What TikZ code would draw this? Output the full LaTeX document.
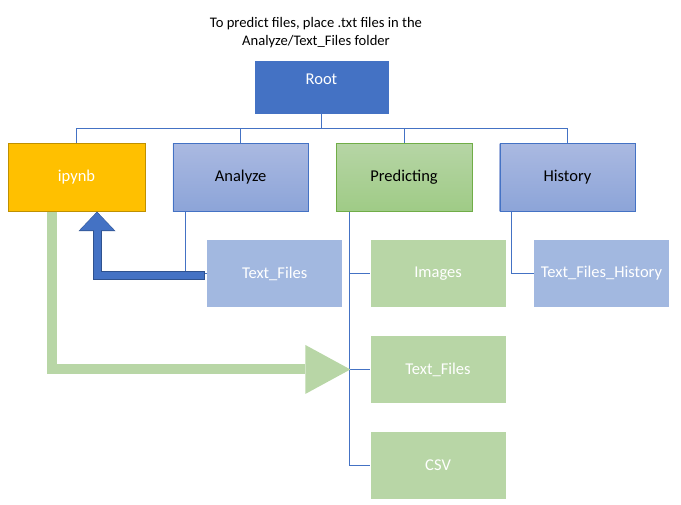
\documentclass[tikz,border=0pt]{standalone}
\usepackage{fontspec}
\setmainfont{Carlito}
\usetikzlibrary{positioning,arrows.meta}

\definecolor{rootblue}{HTML}{4472C4}
\definecolor{darkblue}{HTML}{2F528F}
\definecolor{gold}{HTML}{FFC000}
\definecolor{darkgold}{HTML}{BF9000}
\definecolor{bluetop}{HTML}{AAB9E1}
\definecolor{bluebot}{HTML}{8CA4D8}
\definecolor{greentop}{HTML}{B6D5A5}
\definecolor{greenbot}{HTML}{9FCB86}
\definecolor{greenedge}{HTML}{70AD47}
\definecolor{lightblue}{HTML}{A2B8E0}
\definecolor{lightgreen}{HTML}{B8D6A6}

\begin{document}
\begin{tikzpicture}[font=\fontsize{16.5bp}{20bp}\selectfont]

    % Styles
    \tikzstyle{rootbox} = [rectangle, minimum width=134bp, minimum height=53bp, inner sep=2bp, text centered, text depth=17bp, fill=rootblue, text=white]
    \tikzstyle{notebook} = [rectangle, minimum width=137bp, minimum height=68bp, inner sep=2bp, text centered, draw=darkgold, fill=gold, text=white]
    \tikzstyle{folder} = [rectangle, minimum width=135.5bp, minimum height=68bp, inner sep=2bp, text centered, draw=rootblue, top color=bluetop, bottom color=bluebot]
    \tikzstyle{foldergreen} = [rectangle, minimum width=135.5bp, minimum height=68bp, inner sep=2bp, text centered, draw=greenedge, top color=greentop, bottom color=greenbot]
    \tikzstyle{subfolder} = [rectangle, minimum width=135bp, minimum height=67.5bp, inner sep=2bp, text centered, fill=lightblue, text=white]
    \tikzstyle{subfoldergreen} = [rectangle, minimum width=135bp, minimum height=67.5bp, inner sep=2bp, text centered, fill=lightgreen, text=white]
    \tikzstyle{branch} = [draw=rootblue, line width=0.8bp]
    \tikzstyle{greenarrow} = [draw=lightgreen, line width=10bp, line join=miter, -{Triangle[width=49bp,length=45bp,line width=0pt]}]
    \tikzstyle{bluearrowedge} = [draw=darkblue, line width=9bp, line join=miter, -{Triangle[width=37bp,length=19.5bp,line width=0pt]}]
    \tikzstyle{bluearrow} = [draw=rootblue, line width=7bp, line join=miter, -{Triangle[width=34.5bp,length=18bp,line width=0pt]}]

    \useasboundingbox (0,0) rectangle (681bp,-505bp);

    % Nodes
    \node (root) [rootbox] at (321.5bp,-87.5bp) {Root};
    \node (title) [above=13bp of root, xshift=-5.5bp, align=center, inner sep=0pt, font=\fontsize{14.6bp}{17.5bp}\selectfont] {To predict files, place .txt files in the\\Analyze/Text\_Files folder};

    \node (ipynb) [notebook, below=29bp of root, xshift=-245bp] {ipynb};
    \node (analyze) [folder, right=27.5bp of ipynb] {Analyze};
    \node (predict) [foldergreen, right=27.5bp of analyze] {Predicting};
    \node (history) [folder, right=27.5bp of predict] {History};

    \node (atext) [subfolder, below=28bp of analyze, xshift=34bp] {Text\_Files};
    \node (images) [subfoldergreen, below=28bp of predict, xshift=34bp] {Images};
    \node (ptext) [subfoldergreen, below=28bp of images] {Text\_Files};
    \node (csv) [subfoldergreen, below=28bp of ptext] {CSV};
    \node (htext) [subfolder, below=28bp of history, xshift=34bp] {Text\_Files\_History};

    % Lines
    \draw [branch] (root.south) -- ++(0,-14.5bp) -| (ipynb.north);
    \draw [branch] (root.south) -- ++(0,-14.5bp) -| (analyze.north);
    \draw [branch] (root.south) -- ++(0,-14.5bp) -| (predict.north);
    \draw [branch] (root.south) -- ++(0,-14.5bp) -| (history.north);
    \draw [branch] ([xshift=13bp]analyze.south west) |- (atext.west);
    \draw [branch] ([xshift=13bp]predict.south west) |- (images.west);
    \draw [branch] ([xshift=13bp]predict.south west) |- (ptext.west);
    \draw [branch] ([xshift=13bp]predict.south west) |- (csv.west);
    \draw [branch] ([xshift=12bp]history.south west) |- (htext.west);

    % Arrows
    \draw [greenarrow] ([xshift=-24.5bp]ipynb.south) |- ([xshift=-20bp]ptext.west);
    \draw [bluearrowedge] ([xshift=-2bp,yshift=-1.75bp]atext.west) -| ([xshift=20.5bp]ipynb.south);
    \draw [bluearrow] ([xshift=-2.5bp,yshift=-1.75bp]atext.west) -| ([xshift=20.5bp,yshift=-0.8bp]ipynb.south);

\end{tikzpicture}
\end{document}
